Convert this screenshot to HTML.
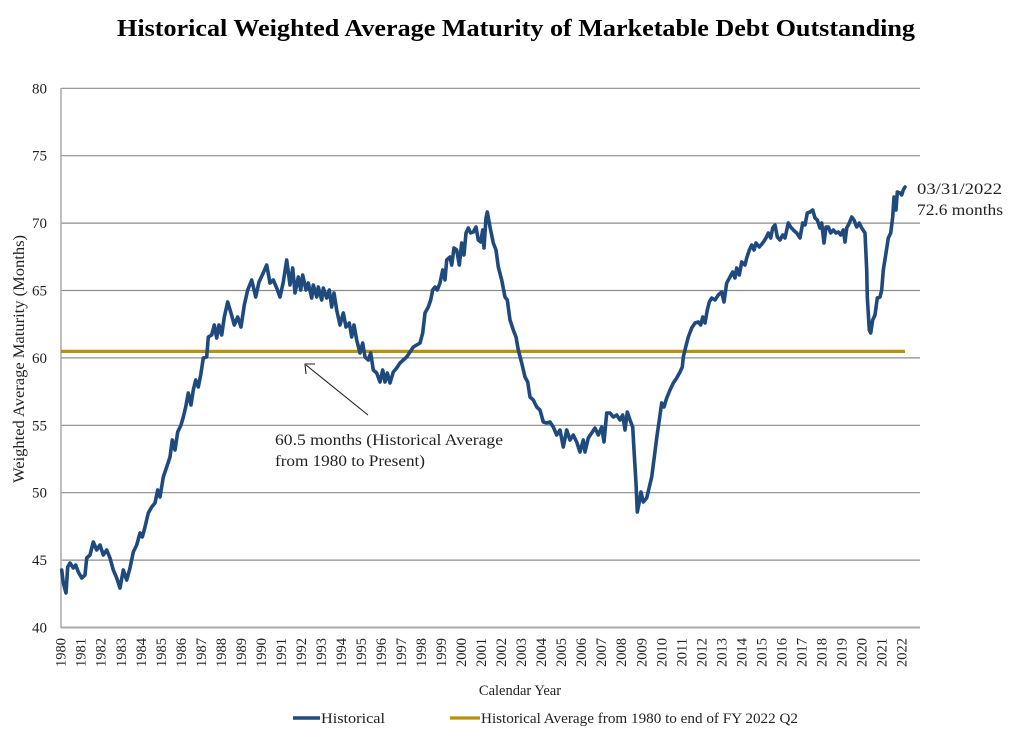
<!DOCTYPE html>
<html>
<head>
<meta charset="utf-8">
<style>
html,body{margin:0;padding:0;background:#fff;}
svg{display:block;}
text{font-family:"Liberation Serif",serif;fill:#222;}
</style>
</head>
<body>
<svg width="1020" height="737" viewBox="0 0 1020 737" xmlns="http://www.w3.org/2000/svg">
<rect width="1020" height="737" fill="#fff"/>
<!-- Title -->
<text x="516" y="36" text-anchor="middle" font-size="24" font-weight="bold" textLength="798" lengthAdjust="spacingAndGlyphs" style="fill:#000">Historical Weighted Average Maturity of Marketable Debt Outstanding</text>

<!-- gridlines -->
<g stroke="#8c8c8c" stroke-width="1.2">
<line x1="61" y1="88.3" x2="920" y2="88.3"/>
<line x1="61" y1="155.7" x2="920" y2="155.7"/>
<line x1="61" y1="223.1" x2="920" y2="223.1"/>
<line x1="61" y1="290.5" x2="920" y2="290.5"/>
<line x1="61" y1="357.9" x2="920" y2="357.9"/>
<line x1="61" y1="425.3" x2="920" y2="425.3"/>
<line x1="61" y1="492.7" x2="920" y2="492.7"/>
<line x1="61" y1="560.1" x2="920" y2="560.1"/>
</g>
<line x1="61" y1="627.5" x2="920" y2="627.5" stroke="#aaa" stroke-width="2"/>
<line x1="61" y1="88" x2="61" y2="628" stroke="#aaa" stroke-width="1.5"/>

<!-- y tick labels -->
<g font-size="15" text-anchor="end">
<text x="47" y="93.3">80</text>
<text x="47" y="160.7">75</text>
<text x="47" y="228.1">70</text>
<text x="47" y="295.5">65</text>
<text x="47" y="362.9">60</text>
<text x="47" y="430.3">55</text>
<text x="47" y="497.7">50</text>
<text x="47" y="565.1">45</text>
<text x="47" y="632.5">40</text>
</g>

<!-- y axis title -->
<text transform="translate(24,359) rotate(-90)" text-anchor="middle" font-size="15.5" textLength="248" lengthAdjust="spacingAndGlyphs">Weighted Average Maturity (Months)</text>

<!-- x tick labels -->
<g font-size="14.5" text-anchor="end" dominant-baseline="central">
<text transform="translate(61.7,638) rotate(-90)">1980</text>
<text transform="translate(81.7,638) rotate(-90)">1981</text>
<text transform="translate(101.7,638) rotate(-90)">1982</text>
<text transform="translate(121.8,638) rotate(-90)">1983</text>
<text transform="translate(141.8,638) rotate(-90)">1984</text>
<text transform="translate(161.8,638) rotate(-90)">1985</text>
<text transform="translate(181.8,638) rotate(-90)">1986</text>
<text transform="translate(201.8,638) rotate(-90)">1987</text>
<text transform="translate(221.9,638) rotate(-90)">1988</text>
<text transform="translate(241.9,638) rotate(-90)">1989</text>
<text transform="translate(261.9,638) rotate(-90)">1990</text>
<text transform="translate(281.9,638) rotate(-90)">1991</text>
<text transform="translate(301.9,638) rotate(-90)">1992</text>
<text transform="translate(321.9,638) rotate(-90)">1993</text>
<text transform="translate(342,638) rotate(-90)">1994</text>
<text transform="translate(362,638) rotate(-90)">1995</text>
<text transform="translate(382,638) rotate(-90)">1996</text>
<text transform="translate(402,638) rotate(-90)">1997</text>
<text transform="translate(422,638) rotate(-90)">1998</text>
<text transform="translate(442.1,638) rotate(-90)">1999</text>
<text transform="translate(462.1,638) rotate(-90)">2000</text>
<text transform="translate(482.1,638) rotate(-90)">2001</text>
<text transform="translate(502.1,638) rotate(-90)">2002</text>
<text transform="translate(522.1,638) rotate(-90)">2003</text>
<text transform="translate(542.2,638) rotate(-90)">2004</text>
<text transform="translate(562.2,638) rotate(-90)">2005</text>
<text transform="translate(582.2,638) rotate(-90)">2006</text>
<text transform="translate(602.2,638) rotate(-90)">2007</text>
<text transform="translate(622.2,638) rotate(-90)">2008</text>
<text transform="translate(642.3,638) rotate(-90)">2009</text>
<text transform="translate(662.3,638) rotate(-90)">2010</text>
<text transform="translate(682.3,638) rotate(-90)">2011</text>
<text transform="translate(702.3,638) rotate(-90)">2012</text>
<text transform="translate(722.3,638) rotate(-90)">2013</text>
<text transform="translate(742.4,638) rotate(-90)">2014</text>
<text transform="translate(762.4,638) rotate(-90)">2015</text>
<text transform="translate(782.4,638) rotate(-90)">2016</text>
<text transform="translate(802.4,638) rotate(-90)">2017</text>
<text transform="translate(822.4,638) rotate(-90)">2018</text>
<text transform="translate(842.5,638) rotate(-90)">2019</text>
<text transform="translate(862.5,638) rotate(-90)">2020</text>
<text transform="translate(882.5,638) rotate(-90)">2021</text>
<text transform="translate(902.5,638) rotate(-90)">2022</text>
</g>

<text x="520" y="695" text-anchor="middle" font-size="14.5">Calendar Year</text>

<!-- average line -->
<line x1="61" y1="351.4" x2="905" y2="351.4" stroke="#b8920f" stroke-width="3.2"/>

<!-- historical series -->
<polyline fill="none" stroke="#1f4a7e" stroke-width="3.6" stroke-linejoin="round" stroke-linecap="round" points="
61.7,570 63.3,583 66,593 67.7,567 70,563 73.3,568 75.7,565 78.3,572 81.7,578 85,575 86.7,558 90,555 93.3,542 96.7,550 100,545 103.3,555 106.7,550 110,558 113.3,570 116.7,578 120,588 123.3,570 126.7,580 130,568 133.3,552 136.7,545 140,533 142.3,537 145,527 148.3,513 151.7,507 155,503 157.7,490 160,497 163.3,477 166.7,467 170,457 172.3,440 175,450 177.7,432 181,425 183.3,417 185.7,407 188.3,393 191,405 193.3,390 195.7,380 198.3,387 200.7,375 203.3,358 206.7,357 208.3,337 211.7,335 214.3,325 216.7,338 219,325 221.7,335 224.3,317 227.7,302 231,313 234.3,325 237.7,317 241,327 244.3,305 247.7,290 251.7,280 255.7,297 259,282 262.3,275 266.7,265 270,283 273.3,280 276.7,288 280,297 283.3,282 286.7,260 290,285 292.7,268 295,293 298.3,277 300.7,290 302.7,275 306,290 308.3,283 311.7,298 313.3,285 316.7,297 318.3,287 321.7,300 323.3,288 326.7,298 329.3,290 331.7,307 334,293 336.7,310 340,325 343.3,313 346,327 349.3,323 351.7,337 354,325 356.7,340 360,353 362.7,343 365,357 368.3,360 370.7,353 373.3,370 376.7,373 380,382 382.7,370 385,382 387.3,373 390,383 393.3,372 396.7,368 400,363 403.3,360 406.7,357 410,352 413.3,347 416.7,345 420,343 422.7,333 425,313 428.3,307 430.7,300 432.7,290 435,287 437.3,290 440,283 442.7,270 445,280 446.7,260 450,257 451.7,265 454,248 456.7,250 459.3,265 461.7,243 464,255 466,233 468.3,228 470.7,233 473.3,232 476,227 478.3,240 480.7,242 482.7,230 484,248 486,218 487.3,212 490,227 493.3,243 496,250 498.3,267 501.7,280 505,297 507.3,300 510,320 513.3,330 516,337 518.3,350 521.7,363 525,377 527.7,382 530,397 533.3,400 536.7,407 540,410 543.3,422 546.7,423 550,422 553.3,427 556.7,435 560,430 563.3,447 566.7,430 570,440 573.3,435 576.7,442 580,452 583.3,440 585,452 588.3,438 591.7,433 595,428 598.3,435 601.7,427 604,442 606.7,413 610,413 613.3,417 616.7,415 620,420 622.7,415 625,430 627.3,412 630,420 632.7,427 634,450 636,483 637.3,512 639.3,502 641,492 643.3,502 646.7,498 649.3,487 651.7,477 654.3,457 656.7,438 659.3,420 661.7,403 664,407 666.7,398 670,390 673.3,383 676.7,378 680,372 682.3,367 683.3,357 685.7,347 688.3,337 691.7,328 695,323 698.3,322 700.7,325 702.7,317 705,323 707.3,310 709.3,302 711.7,298 715,300 718.3,295 721.7,292 724,302 726.7,283 730,277 732.7,272 735,278 736.7,268 739.3,275 741.7,262 745,265 746.7,258 749.3,250 751.7,245 754,250 756,243 759.3,247 762.7,243 766,238 768.3,233 770.7,238 772.7,228 775,225 777.3,237 780,240 782.7,235 785,238 788.3,223 790.7,227 793.3,230 796.7,233 800,238 802.7,223 805,225 807.3,213 810,212 812.7,210 815,218 817.3,220 820,228 821.7,223 824,243 826,227 828.3,227 830.7,233 833.3,230 836,233 838.3,232 840.7,235 843.3,230 845,242 846.7,228 849.3,223 851.7,217 854,220 856.7,227 859.3,223 861.7,228 865,233 866.7,270 867.3,297 869.3,330 870.7,333 872.7,320 875,315 877.3,298 880,297 881.7,290 883.3,270 886,253 888.3,238 890.7,233 892.7,217 894,197 896,210 897.3,192 900,193 901.7,195 903.3,190 905,187"/>

<!-- annotation arrow -->
<line x1="368" y1="415" x2="306" y2="365" stroke="#222" stroke-width="1.1"/>
<polyline points="306,374 305,364 315,364" fill="none" stroke="#222" stroke-width="1.1"/>
<text x="275" y="445" font-size="16" textLength="228" lengthAdjust="spacingAndGlyphs">60.5 months (Historical Average</text>
<text x="275" y="466" font-size="16" textLength="150" lengthAdjust="spacingAndGlyphs">from 1980 to Present)</text>

<!-- end annotation -->
<text x="917" y="194" font-size="16" textLength="85" lengthAdjust="spacingAndGlyphs">03/31/2022</text>
<text x="917" y="215" font-size="16" textLength="86" lengthAdjust="spacingAndGlyphs">72.6 months</text>

<!-- legend -->
<line x1="293" y1="718" x2="320" y2="718" stroke="#1f4a7e" stroke-width="3.4"/>
<text x="321" y="723" font-size="14.5" textLength="64" lengthAdjust="spacingAndGlyphs">Historical</text>
<line x1="450" y1="718" x2="480" y2="718" stroke="#b8920f" stroke-width="3.2"/>
<text x="481" y="723" font-size="14.5" textLength="317" lengthAdjust="spacingAndGlyphs">Historical Average from 1980 to end of FY 2022 Q2</text>
</svg>
</body>
</html>
